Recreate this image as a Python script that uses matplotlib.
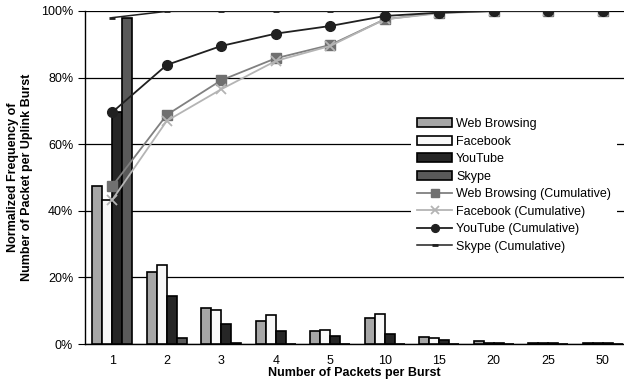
import matplotlib.pyplot as plt
import numpy as np

plt.rcParams['font.family'] = ['Liberation Sans', 'DejaVu Sans']

# Categorie (pacchetti per burst)
categorie = ['1', '2', '3', '4', '5', '10', '15', '20', '25', '50']

# Frequenze normalizzate (%)
web = [47.4, 21.5, 10.9, 6.8, 3.9, 7.8, 2.0, 0.8, 0.2, 0.3]
facebook = [43.3, 23.6, 10.1, 8.7, 4.3, 8.9, 1.7, 0.3, 0.2, 0.3]
youtube = [69.6, 14.3, 5.9, 3.9, 2.3, 3.1, 1.3, 0.3, 0.2, 0.3]
skype = [98.0, 1.9, 0.2, 0.0, 0.0, 0.0, 0.0, 0.0, 0.0, 0.0]

# Cumulative (%)
web_cum = [47.4, 68.8, 79.2, 85.8, 89.8, 97.5, 99.5, 100, 100, 100]
facebook_cum = [43.3, 67.0, 76.5, 85.0, 89.5, 97.5, 99.3, 100, 100, 100]
youtube_cum = [69.6, 83.8, 89.5, 93.2, 95.5, 98.5, 99.5, 100, 100, 100]
skype_cum = [98.0, 99.9, 100, 100, 100, 100, 100, 100, 100, 100]

fig = plt.figure(figsize=(6.24, 3.87), dpi=100)
ax = fig.add_axes([0.1362, 0.111, 0.8638, 0.8606])

x = np.arange(len(categorie))
w = 0.183
serie = [
    (web, '#a6a6a6', 'Web Browsing'),
    (facebook, '#f8f8f8', 'Facebook'),
    (youtube, '#262626', 'YouTube'),
    (skype, '#595959', 'Skype'),
]
handles = []
for i, (vals, col, nome) in enumerate(serie):
    b = ax.bar(x + (i - 1.5) * w, vals, w, color=col, edgecolor='black',
               linewidth=1.2, label=nome, zorder=3)
    handles.append(b)

handles += ax.plot(x, web_cum, color='#808080', marker='s', markersize=7,
                   markerfacecolor='#707070', markeredgecolor='#707070', lw=1.3,
                   label='Web Browsing (Cumulative)', zorder=4)
handles += ax.plot(x, facebook_cum, color='#b4b4b4', marker='x', markersize=7,
                   markeredgewidth=1.3, lw=1.3, label='Facebook (Cumulative)', zorder=4)
handles += ax.plot(x, youtube_cum, color='#202020', marker='o', markersize=7,
                   lw=1.3, label='YouTube (Cumulative)', zorder=5)
handles += ax.plot(x, skype_cum, color='#202020', marker='_', markersize=5,
                   markeredgewidth=2, lw=1.1, label='Skype (Cumulative)', zorder=6)

ax.set_xlim(-0.5, 9.39)
ax.set_ylim(0, 100)
ax.set_xticks(x)
ax.set_xticklabels(categorie)
ax.set_yticks(np.arange(0, 101, 20))
ax.set_yticklabels([f'{v}%' for v in range(0, 101, 20)])
ax.tick_params(axis='x', length=0, labelsize=9, pad=8)
ax.tick_params(axis='y', length=5, labelsize=9, direction='out')
ax.grid(axis='y', color='black', lw=0.9, zorder=0)
for s in ['top', 'right']:
    ax.spines[s].set_visible(False)
ax.spines['left'].set_linewidth(1.0)
ax.spines['bottom'].set_linewidth(1.0)

ax.set_xlabel('Number of Packets per Burst', fontsize=9, fontweight='bold', labelpad=0)
ax.set_ylabel('Normalized Frequency of\nNumber of Packet per Uplink Burst',
              fontsize=9, fontweight='bold', labelpad=6)

leg = fig.legend(handles=handles, labels=[h.get_label() for h in handles],
                 loc='upper left', bbox_to_anchor=(411 / 624, 1 - 112 / 387),
                 frameon=True, fancybox=False, facecolor='white', edgecolor='none',
                 framealpha=1, fontsize=9, handlelength=2.8, handletextpad=0.3,
                 labelspacing=0.44, borderpad=0.5, borderaxespad=0, markerscale=0.8)

fig.savefig('out.png', dpi=100)
